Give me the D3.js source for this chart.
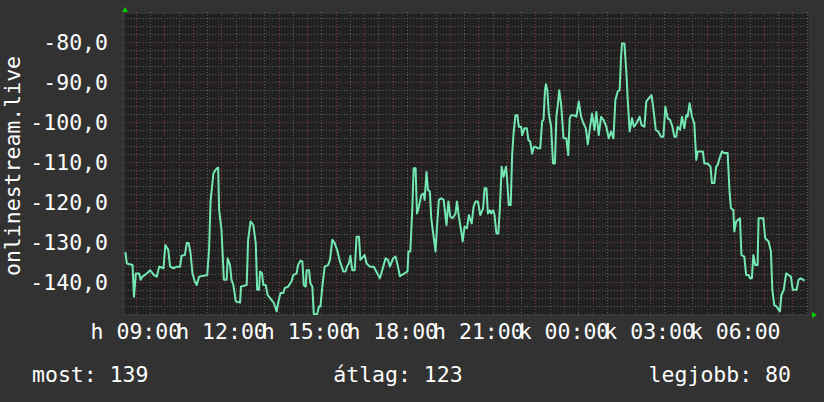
<!DOCTYPE html>
<html>
<head>
<meta charset="utf-8">
<script src="https://cdn.jsdelivr.net/npm/d3@7"></script>
<style>
  html, body { margin: 0; padding: 0; background: #323232; }
  svg { display: block; }
  text { font-family: "DejaVu Sans Mono", monospace; fill: #ffffff; }
</style>
</head>
<body>
<div class="container"></div>
<script>
// minutes after the graph start (Monday 08:34) and the measured value
var mins = [4, 7, 19, 22, 26, 33, 36, 40, 49, 56, 64, 70, 75, 84, 88, 94, 98, 105, 112, 119,
  122, 129, 133, 137, 141, 145, 150, 154, 159, 168, 176, 180, 183, 189, 194, 199, 201, 206, 211, 217,
  219, 224, 227, 231, 236, 245, 247, 259, 262, 267, 273, 278, 281, 285, 287, 291, 294, 299, 303, 311,
  316, 322, 325, 330, 336, 339, 346, 353, 357, 364, 367, 372, 376, 379, 383, 385, 390, 393, 397, 400,
  407, 411, 414, 418, 423, 430, 434, 439, 444, 449, 455, 462, 467, 470, 474, 477, 481, 486, 490, 495,
  498, 504, 507, 511, 518, 526, 530, 539, 546, 551, 556, 560, 567, 572, 577, 581, 588, 597, 599, 603,
  607, 610, 614, 617, 621, 626, 631, 633, 637, 640, 644, 647, 650, 656, 659, 663, 668, 673, 679, 683,
  687, 692, 698, 701, 705, 710, 713, 717, 722, 726, 732, 736, 740, 745, 750, 756, 759, 763, 766, 770,
  773, 777, 780, 784, 788, 791, 795, 799, 804, 806, 810, 814, 817, 820, 824, 828, 831, 836, 838, 843,
  848, 851, 855, 859, 863, 866, 871, 876, 880, 883, 886, 888, 891, 894, 899, 903, 907, 910, 913, 916,
  920, 925, 931, 935, 938, 941, 946, 952, 957, 962, 967, 972, 976, 981, 985, 990, 994, 999, 1004, 1009,
  1015, 1020, 1025, 1030, 1034, 1039, 1043, 1046, 1048, 1053, 1057, 1060, 1064, 1069, 1073, 1078, 1085, 1089, 1095, 1099,
  1104, 1110, 1113, 1119, 1124, 1130, 1135, 1139, 1144, 1149, 1154, 1158, 1162, 1165, 1170, 1174, 1179, 1183, 1186, 1190,
  1195, 1200, 1204, 1207, 1218, 1221, 1228, 1234, 1237, 1242, 1246, 1249, 1253, 1258, 1263, 1270, 1274, 1277, 1282, 1284,
  1288, 1296, 1299, 1305, 1309, 1314, 1317, 1321, 1324, 1328, 1333, 1335, 1345, 1349, 1356, 1361, 1364, 1368, 1373, 1377,
  1380, 1383, 1388, 1393, 1398, 1403, 1407, 1415, 1419, 1424, 1429, 1432];

var values = [-132.5, -135.3, -135.7, -143.6, -137.8, -137.8, -139.4, -138.6, -137.8, -137, -138.2, -138.6, -136.1, -136.5, -130.7, -131.9, -136.1, -136.5, -136.1, -136.1,
  -133.4, -133.2, -130.2, -130.2, -132.8, -137.8, -139.8, -140.7, -138.6, -138.4, -138.2, -131.5, -119.8, -112.8, -111.8, -111.3, -121.9, -126.9, -139.4, -139.4,
  -134, -135.7, -139.4, -140.7, -144.8, -145.1, -141.1, -140.7, -129.4, -124.8, -125.7, -130.2, -141.9, -141.9, -137.3, -137.7, -140.7, -140.7, -143.2, -144.4,
  -145.2, -147.3, -145.2, -142.7, -142.7, -141.5, -141.1, -139.8, -138.2, -137.8, -135.7, -134.6, -134.8, -140.7, -141.1, -137, -137, -140.3, -141.1, -148,
  -148, -146.1, -146.1, -141.1, -136.1, -135.7, -134.4, -129.4, -130.2, -131.9, -134.8, -137.3, -137.3, -136.1, -135.2, -133.4, -137, -137, -128.6, -128.6,
  -134.4, -133.6, -133.2, -135.3, -136.1, -136.1, -137, -139, -136.1, -134, -134.4, -136.1, -134, -133.6, -136.1, -138.5, -138, -137.3, -132.3, -132.3,
  -121.9, -111.5, -111.5, -122.8, -121.1, -118.2, -117.8, -119.4, -112.4, -116.9, -117.3, -124, -126.9, -132.3, -126.1, -119.4, -119, -119.4, -125.7, -119.8,
  -123.6, -124, -122.8, -119.8, -123.6, -127.3, -129.8, -126.1, -126.5, -123.2, -125.3, -121.1, -119.8, -119.8, -123.2, -121.5, -116.5, -116.5, -122.8, -122,
  -122.8, -122, -123.2, -127.8, -127.8, -121.9, -111.1, -113.6, -111.1, -113.6, -120.7, -120.7, -108.2, -102.8, -98.2, -98.2, -101.1, -101.1, -103.2, -101.5,
  -101.5, -104.4, -104.8, -107.8, -106.1, -106.1, -106.5, -106.5, -99.8, -99.4, -92, -90.5, -92, -97.8, -101.1, -110.3, -110.3, -98.6, -95.7, -92,
  -95.5, -104, -104, -108.2, -99, -98.2, -98.2, -98.6, -94.8, -98.6, -100.3, -101.5, -105.5, -101.1, -97.8, -101.9, -97.4, -103.2, -98.6, -99.4,
  -101.1, -104, -102.3, -104, -94.4, -92.3, -91.9, -83.6, -80.3, -80.3, -87.3, -94.4, -102.3, -99, -101.1, -100.3, -98.6, -100.7, -101.1, -94.8,
  -94, -93.2, -95.7, -101.9, -102.3, -103.6, -103.6, -96.1, -99, -99.4, -101.1, -103.6, -103.6, -101.1, -101.9, -98.6, -101.5, -98.2, -98.6, -95.2,
  -98.6, -100.3, -109.4, -107.3, -107.3, -110.3, -110.3, -111.1, -115.2, -115.2, -111.1, -110.7, -109, -107.3, -107.7, -107.7, -117.3, -121.5, -121.9, -127.3,
  -124.8, -124, -133.2, -133.6, -138.2, -138.2, -139, -139, -133.2, -135.7, -135.7, -124, -124, -129, -129.8, -132.3, -141.9, -145.7, -146.1, -146.9,
  -147.3, -143.2, -141.9, -137.8, -138.2, -138.6, -141.9, -141.9, -139.4, -139, -139.4, -139.6];

var yTicks = [-80, -90, -100, -110, -120, -130, -140];
var weekdays = ['v', 'h', 'k', 'sze', 'cs', 'p', 'szo'];
var yTitle = 'onlinestream.live';
var legendNames = ['most', 'átlag', 'legjobb'];
var legendValues = [139, 123, 80];

const WIDTH = 824;
const HEIGHT = 402;
const LEFT = 123.5, RIGHT = 808.5, TOP = 14, BOTTOM = 315;
const FONT = 21.5;

var start = new Date(Date.UTC(2024, 0, 1, 8, 34));
var end = new Date(start.getTime() + 24 * 3600 * 1000);

var xScale = d3.scaleUtc().domain([start, end]).range([LEFT, RIGHT]);
var yScale = d3.scaleLinear().domain([-148.2, -72.9]).range([BOTTOM, TOP]);

var hu = d3.formatLocale({decimal: ',', thousands: ' ', grouping: [3], currency: ['', ''], minus: '-'});
var fmtY = hu.format('.1f');
var fmtHM = d3.utcFormat('%H:%M');
var fmtX = function (d) {
    return weekdays[d.getUTCDay()] + ' ' + fmtHM(d);
};

var svg = d3.select('.container').append('svg')
    .attr('width', WIDTH)
    .attr('height', HEIGHT);

svg.append('rect').attr('width', WIDTH).attr('height', HEIGHT).attr('fill', '#323232');
svg.append('rect')
    .attr('x', LEFT).attr('y', TOP)
    .attr('width', RIGHT - LEFT).attr('height', BOTTOM - TOP)
    .attr('fill', '#212121');

// grid
var grid = svg.append('g').attr('stroke-dasharray', '1,2').attr('stroke-width', 1).attr('shape-rendering', 'crispEdges');
var MINOR = '#5e5e5e', MAJOR = '#8a3a3a';

var minorY = d3.range(-148, -72, 2).filter(function (v) { return v % 10 != 0 && yScale(v) > TOP; });
grid.selectAll('.minorY').data(minorY).enter().append('line')
    .attr('x1', LEFT - 2).attr('x2', RIGHT + 2)
    .attr('y1', function (d) { return Math.round(yScale(d)) + 0.5; })
    .attr('y2', function (d) { return Math.round(yScale(d)) + 0.5; })
    .attr('stroke', MINOR);

var halfHours = xScale.ticks(d3.utcMinute.every(30)).filter(function (d) { return d.getUTCMinutes() == 30; });
grid.selectAll('.minorX').data(halfHours).enter().append('line')
    .attr('x1', function (d) { return Math.round(xScale(d)) + 0.5; })
    .attr('x2', function (d) { return Math.round(xScale(d)) + 0.5; })
    .attr('y1', TOP - 2).attr('y2', BOTTOM + 2)
    .attr('stroke', MINOR);

grid.selectAll('.majorY').data(yTicks).enter().append('line')
    .attr('x1', LEFT - 2).attr('x2', RIGHT + 2)
    .attr('y1', function (d) { return Math.round(yScale(d)) + 0.5; })
    .attr('y2', function (d) { return Math.round(yScale(d)) + 0.5; })
    .attr('stroke', MAJOR);

var hours = xScale.ticks(d3.utcHour.every(1));
grid.selectAll('.majorX').data(hours).enter().append('line')
    .attr('x1', function (d) { return Math.round(xScale(d)) + 0.5; })
    .attr('x2', function (d) { return Math.round(xScale(d)) + 0.5; })
    .attr('y1', TOP - 2).attr('y2', BOTTOM + 3)
    .attr('stroke', MAJOR);

// axis lines
svg.append('line').attr('x1', LEFT).attr('x2', LEFT).attr('y1', TOP).attr('y2', BOTTOM)
    .attr('stroke', '#3a3a3a').attr('stroke-width', 2);
svg.append('line').attr('x1', LEFT).attr('x2', RIGHT).attr('y1', BOTTOM).attr('y2', BOTTOM)
    .attr('stroke', '#3a3a3a').attr('stroke-width', 1);

// arrows
svg.append('path').attr('d', 'M122,12 L125,7 L128,12 Z').attr('fill', '#00d000');
svg.append('path').attr('d', 'M812,312 L817,315 L812,318 Z').attr('fill', '#00d000');

// data line
svg.append('clipPath').attr('id', 'plotClip').append('rect')
    .attr('x', LEFT).attr('y', TOP).attr('width', RIGHT - LEFT).attr('height', BOTTOM - TOP);

var points = mins.map(function (m, i) {
    return {t: new Date(start.getTime() + m * 60000), v: values[i]};
});
var line = d3.line()
    .x(function (d) { return xScale(d.t); })
    .y(function (d) { return yScale(d.v); });

svg.append('path')
    .datum(points)
    .attr('clip-path', 'url(#plotClip)')
    .attr('d', line)
    .attr('fill', 'none')
    .attr('stroke', '#74e8b2')
    .attr('stroke-width', 2)
    .attr('stroke-linejoin', 'round');

// y labels
svg.selectAll('.ylabel').data(yTicks).enter().append('text')
    .attr('x', 108)
    .attr('y', function (d) { return yScale(d); })
    .attr('dy', '0.36em')
    .attr('text-anchor', 'end')
    .style('font-size', FONT + 'px')
    .text(function (d) { return fmtY(d); });

// x labels
svg.selectAll('.xlabel').data(xScale.ticks(d3.utcHour.every(3))).enter().append('text')
    .attr('x', function (d) { return xScale(d); })
    .attr('y', 338.5)
    .attr('text-anchor', 'middle')
    .style('font-size', FONT + 'px')
    .text(fmtX);

// y title
svg.append('text')
    .attr('transform', 'translate(20,166) rotate(-90)')
    .attr('text-anchor', 'middle')
    .style('font-size', FONT + 'px')
    .text(yTitle);

// summary line
var anchors = ['start', 'middle', 'end'];
var legendX = [32, 398, 791];
legendNames.forEach(function (name, i) {
    svg.append('text')
        .attr('x', legendX[i])
        .attr('y', 381.5)
        .attr('text-anchor', anchors[i])
        .style('font-size', FONT + 'px')
        .text(name + ': ' + legendValues[i]);
});
</script>
</body>
</html>
